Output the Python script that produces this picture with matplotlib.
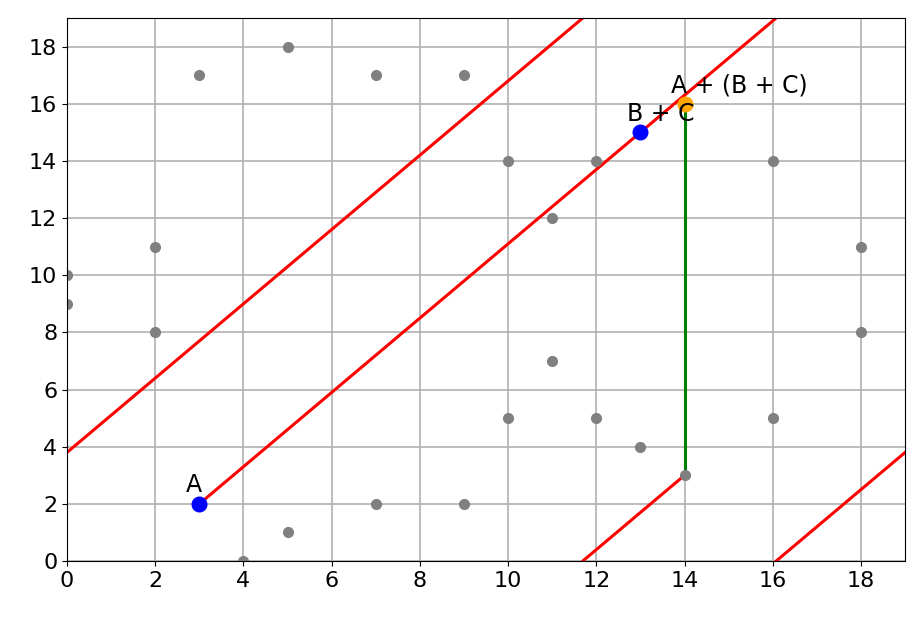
import numpy as np
import matplotlib
matplotlib.use("Agg")
import matplotlib.pyplot as plt

# points of the curve over F_19
pts_x = [0, 0, 2, 2, 3, 3, 4, 5, 5, 7, 7, 9, 9, 10, 10, 11, 11, 12, 12, 13, 13, 14, 14, 16, 16, 18, 18]
pts_y = [9, 10, 8, 11, 2, 17, 0, 1, 18, 2, 17, 2, 17, 5, 14, 7, 12, 5, 14, 4, 15, 3, 16, 5, 14, 8, 11]

A = (3, 2)
BC = (13, 15)
ABC = (14, 16)
third = (14, 3)
p = 19

plt.rcParams['font.size'] = 16
fig = plt.figure(figsize=(9.22, 6.21), dpi=100)
ax = fig.add_axes([0.0727, 0.0966, 0.909, 0.8744])

# line through A and B+C, wrapped on the torus until it hits the third point
slope = (BC[1] - A[1]) / (BC[0] - A[0])
xs = np.linspace(A[0], third[0] + p, 3001)
ys = A[1] + slope * (xs - A[0])
xw = np.mod(xs, p)
yw = np.mod(ys, p)
brk = np.where((np.abs(np.diff(xw)) > 1) | (np.abs(np.diff(yw)) > 1))[0]
xw = np.insert(xw, brk + 1, np.nan)
yw = np.insert(yw, brk + 1, np.nan)
ax.plot(xw, yw, color='red', lw=2.2)

ax.plot([third[0], ABC[0]], [third[1], ABC[1]], color='green', lw=2.2)

ax.plot(pts_x, pts_y, 'o', color='gray', ms=7)
ax.plot([A[0], BC[0]], [A[1], BC[1]], 'o', color='blue', ms=10.5)
ax.plot([ABC[0]], [ABC[1]], 'o', color='orange', ms=10.5)

ax.text(A[0] - 0.3, A[1] + 0.4, 'A', fontsize=17)
ax.text(BC[0] - 0.3, BC[1] + 0.4, 'B + C', fontsize=17)
ax.text(ABC[0] - 0.3, ABC[1] + 0.4, 'A + (B + C)', fontsize=17)

ax.set_xlim(0, 19)
ax.set_ylim(0, 19)
ax.set_xticks(range(0, 19, 2))
ax.set_yticks(range(0, 19, 2))
ax.grid(True, color='#b0b0b0', lw=1.2)
ax.set_axisbelow(True)

fig.savefig('out.png', dpi=100)
